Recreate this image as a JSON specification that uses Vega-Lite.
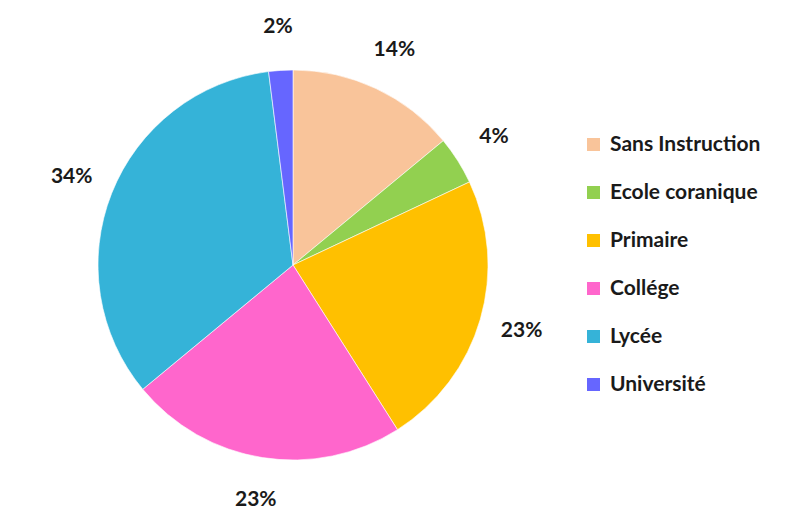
{
  "$schema": "https://vega.github.io/schema/vega-lite/v6.json",
  "width": 566,
  "height": 484,
  "padding": {"left": 10, "top": 16, "right": 0, "bottom": 13},
  "background": "#ffffff",
  "config": {"view": {"stroke": null}, "font": "Lato"},
  "data": {
    "values": [
      {"categorie": "Sans Instruction", "pct": 14, "ordre": 1, "label": "14%"},
      {"categorie": "Ecole coranique", "pct": 4, "ordre": 2, "label": "4%"},
      {"categorie": "Primaire", "pct": 23, "ordre": 3, "label": "23%"},
      {"categorie": "Collége", "pct": 23, "ordre": 4, "label": "23%"},
      {"categorie": "Lycée", "pct": 34, "ordre": 5, "label": "34%"},
      {"categorie": "Université", "pct": 2, "ordre": 6, "label": "2%"}
    ]
  },
  "encoding": {
    "theta": {"field": "pct", "type": "quantitative", "stack": true},
    "order": {"field": "ordre", "type": "quantitative"}
  },
  "layer": [
    {
      "mark": {"type": "arc", "outerRadius": 195, "stroke": "#ffffff", "strokeWidth": 0.6},
      "encoding": {
        "color": {
          "field": "categorie",
          "type": "nominal",
          "sort": ["Sans Instruction", "Ecole coranique", "Primaire", "Collége", "Lycée", "Université"],
          "scale": {
            "domain": ["Sans Instruction", "Ecole coranique", "Primaire", "Collége", "Lycée", "Université"],
            "range": ["#F9C49A", "#92D050", "#FFC000", "#FF66CC", "#35B3D8", "#6666FF"]
          },
          "legend": {
            "title": null,
            "orient": "none",
            "legendX": 573,
            "legendY": 111,
            "symbolType": "square",
            "symbolSize": 170,
            "symbolStrokeWidth": 0,
            "labelFontSize": 21,
            "labelFont": "Lato",
            "labelFontWeight": "bold",
            "labelColor": "#1a1a1a",
            "labelOffset": 6,
            "rowPadding": 26,
            "labelLimit": 300
          }
        }
      }
    },
    {
      "mark": {"type": "text", "radius": 238, "fontSize": 21, "font": "Lato", "fontWeight": "bold", "color": "#1a1a1a"},
      "encoding": {
        "text": {"field": "label", "type": "nominal"}
      }
    }
  ]
}
